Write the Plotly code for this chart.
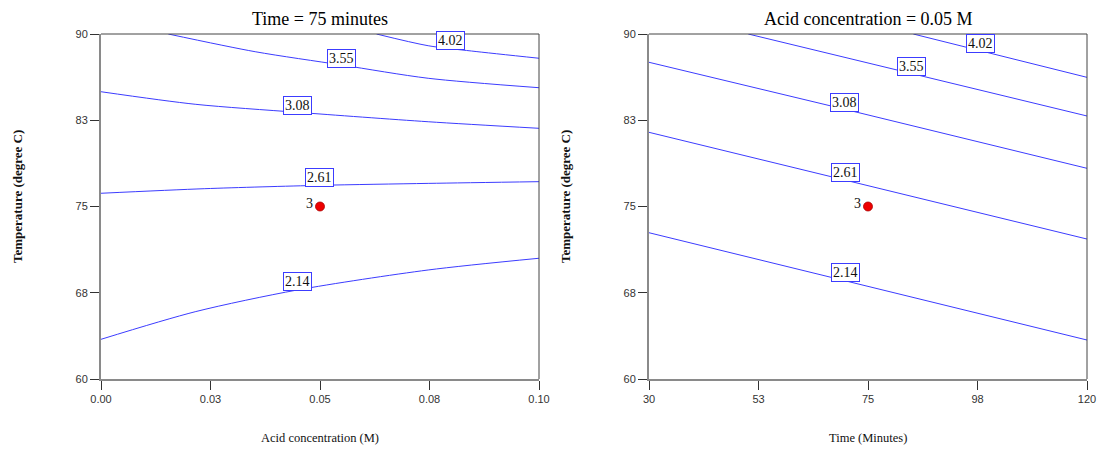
import plotly.graph_objects as go

# ---------------- data ----------------
contour_levels = ["4.02", "3.55", "3.08", "2.61", "2.14"]

# Left panel: Time = 75 min, x = acid concentration (M), y = temperature
left_c402_x = [0.0629, 0.0747, 0.0846, 0.1000]
left_c402_y = [90.00, 88.98, 88.52, 87.89]
left_c355_x = [0.01537, 0.0352, 0.0550, 0.0747, 0.1000]
left_c355_y = [90.00, 88.46, 87.30, 86.15, 85.33]
left_c308_x = [0.0000, 0.0215, 0.0449, 0.0747, 0.1000]
left_c308_y = [84.98, 83.89, 83.19, 82.37, 81.80]
left_c261_x = [0.0000, 0.0237, 0.0499, 0.0747, 0.1000]
left_c261_y = [76.15, 76.55, 76.84, 77.01, 77.16]
left_c214_x = [0.0000, 0.0215, 0.0448, 0.0747, 0.1000]
left_c214_y = [63.45, 65.85, 67.74, 69.48, 70.50]

# Right panel: Acid = 0.05 M, x = time (min), y = temperature
right_c402_x = [84.31, 98.16, 120.0]
right_c402_y = [90.00, 88.52, 86.23]
right_c355_x = [50.40, 83.84, 120.0]
right_c355_y = [90.00, 86.55, 82.87]
right_c308_x = [30.0, 70.27, 120.0]
right_c308_y = [87.54, 83.45, 78.32]
right_c261_x = [30.0, 70.42, 120.0]
right_c261_y = [81.45, 77.29, 72.17]
right_c214_x = [30.0, 70.42, 120.0]
right_c214_y = [72.72, 68.55, 63.39]

# contour label anchor points (data units)
left_label_x = [0.0797, 0.0550, 0.0449, 0.0498, 0.0448]
left_label_y = [89.42, 87.89, 83.77, 77.54, 68.46]
right_label_x = [98.16, 83.84, 70.27, 70.42, 70.42]
right_label_y = [89.19, 87.16, 84.06, 77.97, 69.24]

# design (centre) point
left_point_x = [0.05]
left_point_y = [75.0]
right_point_x = [75.0]
right_point_y = [75.0]
point_label = "3"

# axes
temp_tickvals = [60, 67.5, 75, 82.5, 90]
temp_ticktext = ["60", "68", "75", "83", "90"]
acid_tickvals = [0.0, 0.025, 0.05, 0.075, 0.1]
acid_ticktext = ["0.00", "0.03", "0.05", "0.08", "0.10"]
time_tickvals = [30, 52.5, 75, 97.5, 120]
time_ticktext = ["30", "53", "75", "98", "120"]

titles = ["Time = 75 minutes", "Acid concentration = 0.05 M"]
x_titles = ["Acid concentration (M)", "Time (Minutes)"]
y_title = "Temperature (degree C)"

# ---------------- figure ----------------
W, H = 1098, 452
SERIF = "Liberation Serif, Times New Roman, serif"
SANS = "Liberation Sans, Arial, sans-serif"
LINE_BLUE = "#3c3cff"

fig = go.Figure()

left_lines = [(left_c402_x, left_c402_y), (left_c355_x, left_c355_y), (left_c308_x, left_c308_y),
              (left_c261_x, left_c261_y), (left_c214_x, left_c214_y)]
right_lines = [(right_c402_x, right_c402_y), (right_c355_x, right_c355_y), (right_c308_x, right_c308_y),
               (right_c261_x, right_c261_y), (right_c214_x, right_c214_y)]

for xs, ys in left_lines:
    fig.add_trace(go.Scatter(x=xs, y=ys, mode="lines",
                             line=dict(color=LINE_BLUE, width=1, shape="spline", smoothing=0.8),
                             xaxis="x", yaxis="y", showlegend=False, hoverinfo="skip"))
for xs, ys in right_lines:
    fig.add_trace(go.Scatter(x=xs, y=ys, mode="lines", line=dict(color=LINE_BLUE, width=1),
                             xaxis="x2", yaxis="y2", showlegend=False, hoverinfo="skip"))

marker_style = dict(color="#ee0000", size=9, line=dict(color="#aa0000", width=0.8))
fig.add_trace(go.Scatter(x=left_point_x, y=left_point_y, mode="markers", marker=marker_style,
                         xaxis="x", yaxis="y", showlegend=False))
fig.add_trace(go.Scatter(x=right_point_x, y=right_point_y, mode="markers", marker=marker_style,
                         xaxis="x2", yaxis="y2", showlegend=False))

annotations = []
for (xr, yr, lxs, lys) in [("x", "y", left_label_x, left_label_y), ("x2", "y2", right_label_x, right_label_y)]:
    for lab, lx, ly in zip(contour_levels, lxs, lys):
        annotations.append(dict(x=lx, y=ly, xref=xr, yref=yr, text=lab, showarrow=False,
                                font=dict(family=SERIF, size=14, color="#111"),
                                bgcolor="white", bordercolor=LINE_BLUE, borderwidth=1, borderpad=1))

for (xr, yr, pxs, pys) in [("x", "y", left_point_x, left_point_y), ("x2", "y2", right_point_x, right_point_y)]:
    annotations.append(dict(x=pxs[0], y=pys[0], xref=xr, yref=yr, text=point_label,
                            showarrow=False, xanchor="right", xshift=-5, yshift=3,
                            font=dict(family=SERIF, size=14, color="#111")))

# panel geometry in pixels
L1, R1 = 101, 539
L2, R2 = 649, 1087
TOP, BOT = 34, 379


def px(v):
    return v / W


def py(v):
    return (H - v) / H


for (l, r), t in zip([(L1, R1), (L2, R2)], titles):
    annotations.append(dict(x=px((l + r) / 2), y=py(19), xref="paper", yref="paper", text=t,
                            showarrow=False, xanchor="center", yanchor="middle",
                            font=dict(family=SERIF, size=18, color="#000")))
for (l, r), t in zip([(L1, R1), (L2, R2)], x_titles):
    annotations.append(dict(x=px((l + r) / 2), y=py(438), xref="paper", yref="paper", text=t,
                            showarrow=False, xanchor="center", yanchor="middle",
                            font=dict(family=SERIF, size=12.5, color="#111")))
for xpos in [18, 566]:
    annotations.append(dict(x=px(xpos), y=py(197), xref="paper", yref="paper", text="<b>" + y_title + "</b>",
                            showarrow=False, xanchor="center", yanchor="middle", textangle=-90,
                            font=dict(family=SERIF, size=13, color="#111")))

shapes = []
for xr, yr in [("x domain", "y domain"), ("x2 domain", "y2 domain")]:
    shapes.append(dict(type="line", xref=xr, yref=yr, x0=0, x1=1, y0=1, y1=1, line=dict(color="#444", width=1)))
    shapes.append(dict(type="line", xref=xr, yref=yr, x0=1, x1=1, y0=0, y1=1, line=dict(color="#444", width=1)))

axis_common = dict(showgrid=False, zeroline=False, showline=True, linecolor="#8a8a8a", linewidth=2,
                   ticks="outside", ticklen=9, tickwidth=1, tickcolor="#333", automargin=False,
                   tickfont=dict(family=SANS, size=11, color="#333"), mirror=False)

fig.update_layout(
    width=W, height=H,
    margin=dict(l=0, r=0, t=0, b=0, autoexpand=False),
    paper_bgcolor="white", plot_bgcolor="white",
    showlegend=False,
    xaxis=dict(domain=[px(L1), px(R1)], range=[0, 0.1], tickvals=acid_tickvals, ticktext=acid_ticktext,
               anchor="y", **axis_common),
    yaxis=dict(domain=[py(BOT), py(TOP)], range=[60, 90], tickvals=temp_tickvals, ticktext=temp_ticktext,
               anchor="x", **axis_common),
    xaxis2=dict(domain=[px(L2), px(R2)], range=[30, 120], tickvals=time_tickvals, ticktext=time_ticktext,
                anchor="y2", **axis_common),
    yaxis2=dict(domain=[py(BOT), py(TOP)], range=[60, 90], tickvals=temp_tickvals, ticktext=temp_ticktext,
                anchor="x2", **axis_common),
    annotations=annotations,
    shapes=shapes,
)

fig.write_html("out.html")
